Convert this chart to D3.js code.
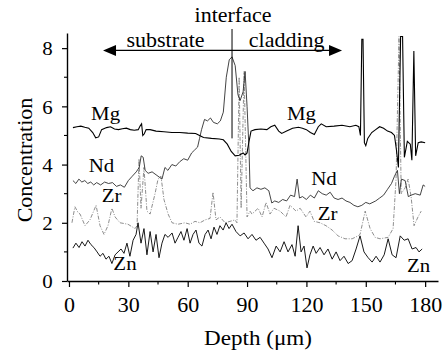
<!DOCTYPE html>
<html>
<head>
<meta charset="utf-8">
<script src="https://cdn.jsdelivr.net/npm/d3@7"></script>
<style>
  html, body { margin: 0; padding: 0; background: #fff; }
  svg { display: block; }
  svg text { font-family: "Liberation Serif", "Times New Roman", serif; }
</style>
</head>
<body>
<div id="chart"></div>
<script>
// Line scan values: [depth (µm), concentration]
const mg = [[2,5.27],[4,5.3],[6,5.32],[8,5.28],[10,5.25],[12,5.1],[13.5,4.92],[15,4.95],[16.5,5.2],[19,5.27],[21,5.3],[23,5.22],[25,5.2],[27,5.23],[29,5.25],[31,5.2],[33,5.18],[35,5.2],[36,5.33],[36.7,5.4],[37.3,5.0],[38,5.05],[39,5.2],[41,5.2],[44,5.15],[48,5.13],[52,5.1],[56,5.1],[60,5.08],[64,5.07],[66,5.0],[68,4.93],[72,4.9],[76,4.88],[78,4.85],[80,4.7],[82,4.45],[84,4.3],[86,4.32],[88,4.4],[89,4.33],[90,4.4],[91,4.8],[92,5.15],[94,5.2],[97,5.22],[100,5.2],[102,5.3],[104,5.35],[106,5.15],[107.5,5.07],[110,5.15],[113,5.25],[116,5.28],[118,5.25],[120,5.2],[122,5.1],[124,5.03],[126,5.3],[127.5,5.4],[130,5.3],[134,5.32],[138,5.35],[142,5.3],[145,5.35],[146.5,5.3],[147.3,5.0],[148,8.3],[148.6,8.3],[149.3,4.75],[150,4.65],[151,4.9],[153,5.1],[155,5.2],[157,5.3],[159,5.25],[161,5.15],[163,5.1],[164.5,5.0],[165.5,4.5],[166.5,3.9],[167.6,8.4],[168.6,8.4],[169.5,4.25],[171,4.8],[172.5,4.7],[173.3,4.15],[174.3,7.9],[175.2,4.3],[176.5,4.75],[178,4.78],[180,4.75]];

const nd = [[2,3.45],[3.5,3.35],[5,3.5],[6.5,3.4],[8,3.45],[9.5,3.35],[11,3.4],[12.5,3.3],[14,3.38],[16,3.3],[18,3.4],[20,3.35],[22,3.38],[24,3.25],[26,3.3],[28,3.22],[30,3.45],[32,3.6],[34,3.75],[35.5,3.9],[36.5,4.3],[37.5,4.25],[38.5,3.8],[40,3.7],[42,3.75],[44,3.65],[46,3.55],[47,3.5],[48.5,3.9],[50,3.8],[52,4.0],[54,3.95],[56,4.1],[58,4.2],[60,4.15],[62,4.4],[63.5,4.5],[65,4.6],[66,4.9],[67,5.2],[68.5,5.55],[70,5.5],[71.5,5.6],[73,5.45],[75,5.4],[76.5,5.5],[78,5.8],[79.5,7.0],[81,7.6],[82.4,7.7],[84,7.4],[85.4,6.4],[86.5,6.2],[88,6.5],[89,7.2],[90,6.0],[91,4.5],[91.5,3.2],[93,3.1],[95,3.2],[97,3.15],[99,3.2],[101,3.1],[102.5,2.68],[104,2.75],[106,2.7],[108,2.8],[110,2.75],[112,2.95],[114,2.9],[115.3,3.5],[116.5,2.85],[118,2.9],[120,2.8],[122,2.95],[124,2.85],[126,3.1],[128,3.0],[130,2.95],[132,3.05],[134,2.85],[136,2.8],[138,2.85],[140,2.75],[142,2.7],[144,2.6],[146,2.55],[148,2.6],[150,2.7],[152,2.65],[155,2.75],[157,2.85],[159,2.95],[161,3.15],[163,3.35],[164.5,3.6],[166,3.8],[167,3.0],[168,3.5],[169.9,3.45],[171.5,2.9],[173,2.95],[175,3.0],[177.5,2.95],[179,3.3],[180,3.25]];

const zr = [[1.5,2.0],[3,2.55],[4.6,2.35],[5.6,2.3],[8.1,1.9],[10.6,2.1],[13.7,2.6],[15.7,1.9],[17.7,1.6],[19.7,1.9],[21.7,2.5],[23.3,2.2],[25.8,2.0],[29.8,1.95],[33.4,1.8],[34.4,1.9],[35.4,4.2],[36.4,2.5],[37.9,3.9],[39.4,2.4],[41,2.3],[43.5,3.0],[45,3.5],[46.5,3.6],[48,2.8],[50.1,2.3],[52.1,2.0],[55.1,1.95],[58.6,2.0],[61.2,1.95],[63.7,2.05],[66.2,2.0],[68.8,2.1],[71.3,2.15],[72.8,3.05],[74.3,2.1],[76.3,2.2],[78.9,2.0],[81.4,2.05],[83.9,2.1],[84.9,2.0],[86,7.0],[87,2.5],[88.5,7.2],[90,2.2],[91.5,2.4],[92.5,2.3],[95.6,2.5],[97.6,2.2],[99.6,2.7],[101.6,2.3],[103.6,2.5],[106.7,2.4],[109.7,2.2],[111.7,2.6],[114.8,2.4],[116.8,2.5],[119.8,2.2],[121.8,2.4],[123.9,2.05],[126.9,2.0],[129.9,1.9],[133,1.75],[136,1.55],[139.5,1.45],[143.1,1.45],[146.1,1.55],[147.1,1.6],[149.7,2.4],[152.2,1.8],[154.7,1.5],[157.2,1.45],[161.3,1.5],[163.8,1.8],[165.3,3.5],[166.8,8.4],[167.9,3.0],[169.9,3.2],[171.4,3.5],[172.9,2.9],[174.4,1.9],[176.4,2.2],[178,2.4]];

const zn = [[2,1.13],[3.5,1.3],[5.1,1.15],[6.6,1.35],[8.1,1.2],[9.6,1.4],[11.1,1.25],[12.6,1.15],[14.2,1.0],[15.7,0.85],[17.2,0.95],[18.7,0.75],[20.2,0.85],[21.7,0.6],[23.3,0.9],[24.8,1.0],[26.3,1.1],[27.8,0.95],[29.3,1.3],[30.8,0.85],[32.4,1.4],[33.9,1.6],[34.9,2.0],[36.4,1.3],[37.9,1.8],[39.4,0.9],[41,1.7],[42.5,1.0],[44,1.6],[45.5,0.8],[47,1.3],[48.5,1.6],[50.1,1.5],[52.1,1.65],[53.6,1.3],[55.1,1.5],[56.6,1.7],[58.1,1.4],[59.7,1.8],[61.2,1.3],[62.7,1.6],[64.2,1.75],[65.7,1.3],[67.2,1.2],[68.8,1.6],[70.3,1.75],[71.8,1.45],[73.3,1.85],[74.8,1.6],[76.3,1.9],[77.9,1.75],[79.4,2.0],[80.9,1.8],[82.4,1.95],[84.4,1.7],[86.5,1.55],[88.5,1.65],[90.5,1.45],[92.5,1.6],[94.5,1.4],[96.6,1.5],[98.6,1.3],[100.6,1.1],[102.6,0.8],[104.7,1.2],[106.7,1.0],[108.7,1.35],[110.7,1.0],[112.7,1.25],[114.3,0.85],[115.8,1.9],[117.3,1.0],[118.8,1.2],[120.3,0.45],[121.8,0.9],[123.4,1.2],[124.9,0.95],[126.9,1.15],[128.9,0.9],[130.9,1.1],[133,0.75],[135,1.0],[137,0.7],[139,0.85],[141.1,0.6],[143.1,0.7],[145.1,1.1],[147.1,1.55],[149.1,1.0],[151.2,0.8],[153.2,0.65],[155.2,0.85],[157.2,0.65],[159.3,0.9],[161.3,1.45],[163.3,0.9],[165.3,0.8],[167.4,1.55],[169.4,1.4],[171.4,1.45],[173.4,1.1],[175.4,1.15],[176.9,1.0],[178.5,1.1]];

const xTicks = [0, 30, 60, 90, 120, 150, 180];
const yTicks = [0, 2, 4, 6, 8];

// series labels placed in data coordinates [text, depth, conc]
const seriesLabels = [
	["Mg", 18.5, 5.53], ["Mg", 117.5, 5.53],
	["Nd", 16.4, 3.74], ["Nd", 128.9, 3.3],
	["Zr", 21.5, 2.71], ["Zr", 130.7, 2.1],
	["Zn", 28.3, 0.38], ["Zn", 176.7, 0.31]
];

const W = 446, H = 353;
const FONT = "'Liberation Serif', 'Times New Roman', serif";
const STRETCH = 1.1; // the source lettering is a bit wider than Times

const svg = d3.select("#chart").append("svg")
	.attr("width", W)
	.attr("height", H);

const x = d3.scaleLinear().domain([-1, 186.5]).range([67, 438]);
const y = d3.scaleLinear().domain([0, 8.52]).range([281, 33]);

function label(str, px, py, size, anchor) {
	return svg.append("text")
		.attr("transform", `translate(${px},${py}) scale(${STRETCH},1)`)
		.attr("text-anchor", anchor || "middle")
		.style("font-family", FONT)
		.style("font-size", size + "px")
		.attr("fill", "#000")
		.text(str);
}

// Series
const line = d3.line().x(d => x(d[0])).y(d => y(d[1]));
const styles = [
	{data: zr, stroke: "#7a7a7a", width: 0.85, dash: "4,1.5,1,1.5"},
	{data: nd, stroke: "#222", width: 0.85, dash: null},
	{data: zn, stroke: "#000", width: 0.9, dash: null},
	{data: mg, stroke: "#000", width: 1.1, dash: null}
];
for (const s of styles) {
	svg.append("path")
		.datum(s.data)
		.attr("d", line)
		.attr("fill", "none")
		.attr("stroke", s.stroke)
		.attr("stroke-width", s.width)
		.attr("stroke-dasharray", s.dash);
}

// Axes
const xAxis = svg.append("g")
	.attr("transform", `translate(0,${y(0)})`)
	.call(d3.axisBottom(x).tickValues(xTicks).tickSize(6).tickSizeOuter(0).tickPadding(9));
const yAxis = svg.append("g")
	.attr("transform", `translate(${x(-1)},0)`)
	.call(d3.axisLeft(y).tickValues(yTicks).tickSize(5).tickSizeOuter(0).tickPadding(8));

for (const ax of [xAxis, yAxis]) {
	ax.attr("font-family", null).attr("font-size", null);
	ax.select(".domain").attr("stroke", "#000").attr("stroke-width", 1.4);
	ax.selectAll(".tick line").attr("stroke", "#000").attr("stroke-width", 1.2);
	ax.selectAll(".tick text")
		.style("font-family", FONT)
		.attr("fill", "#000");
}
xAxis.selectAll(".tick text").style("font-size", "22px");
yAxis.selectAll(".tick text")
	.style("font-size", "19px")
	.attr("dy", "0.36em")
	.attr("transform", `scale(${STRETCH},1)`);

// Minor ticks
svg.append("g").selectAll("line")
	.data(d3.range(15, 181, 30))
	.join("line")
	.attr("x1", d => x(d)).attr("x2", d => x(d))
	.attr("y1", y(0)).attr("y2", y(0) + 3.5)
	.attr("stroke", "#000").attr("stroke-width", 1.1);
svg.append("g").selectAll("line")
	.data([1, 3, 5, 7])
	.join("line")
	.attr("x1", x(-1)).attr("x2", x(-1) - 3)
	.attr("y1", d => y(d)).attr("y2", d => y(d))
	.attr("stroke", "#000").attr("stroke-width", 1.1);

// Axis titles
label("Depth (\u03bcm)", 258, 345, 21);
svg.append("text")
	.attr("transform", `translate(32,160) rotate(-90) scale(1.1,1)`)
	.attr("text-anchor", "middle")
	.style("font-family", FONT)
	.style("font-size", "20px")
	.attr("fill", "#000")
	.text("Concentration");

// Series labels
for (const [t, d, c] of seriesLabels) {
	label(t, x(d), y(c), 19);
}

// substrate / cladding double arrow and interface marker
const arrowY = y(7.92);
const xl = x(17.2), xr = x(138);
svg.append("line")
	.attr("x1", xl + 8).attr("x2", xr - 8)
	.attr("y1", arrowY).attr("y2", arrowY)
	.attr("stroke", "#000").attr("stroke-width", 1.3);
svg.append("path")
	.attr("d", `M${xl},${arrowY} l13,-5.5 l0,11 Z M${xr},${arrowY} l-13,-5.5 l0,11 Z`)
	.attr("fill", "#000");
svg.append("line")
	.attr("x1", x(82.4)).attr("x2", x(82.4))
	.attr("y1", 29).attr("y2", y(4.9))
	.attr("stroke", "#000").attr("stroke-width", 1);

label("interface", x(82.9), 22, 20);
label("substrate", x(48.8), 47, 20);
label("cladding", x(110), 47, 20);
</script>
</body>
</html>
